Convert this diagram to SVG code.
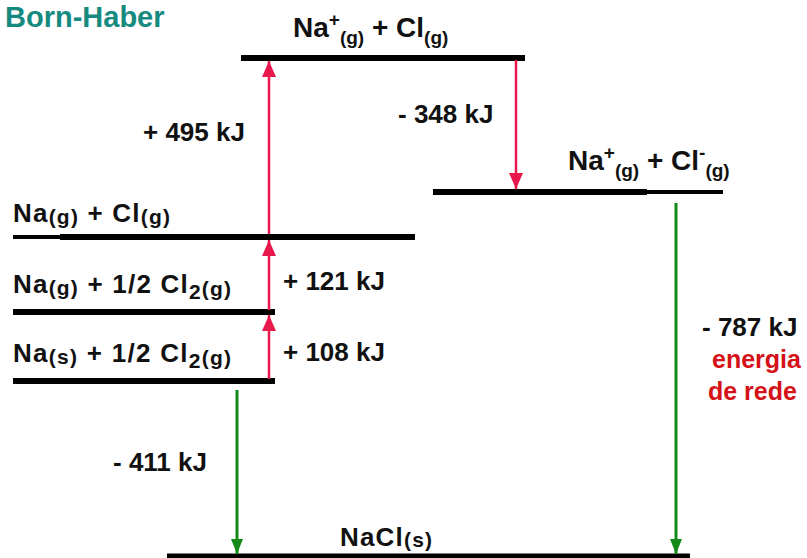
<svg xmlns="http://www.w3.org/2000/svg" width="807" height="558" viewBox="0 0 807 558">
  <style>
    text { font-family: "Liberation Sans", Arial, sans-serif; font-weight: bold; fill: #111; }
    .title { font-size: 29px; fill: #178a80; }
    .big { font-size: 26px; }
    .note { font-size: 25px; fill: #d41218; }
    .head { font-size: 28px; }
    .hs { font-size: 19px; }
    .lvl { font-size: 26px; }
    .ls { font-size: 21px; }
    .level { stroke: #000; stroke-width: 6; fill: none; }
    .up { stroke: #e8184c; stroke-width: 2.5; fill: none; marker-end: url(#headRed); }
    .down { stroke: #e8184c; stroke-width: 2.5; fill: none; marker-end: url(#headRed); }
    .green { stroke: #138a18; stroke-width: 3; fill: none; marker-end: url(#headGreen); }
  </style>
  <defs>
    <marker id="headRed" markerUnits="userSpaceOnUse" viewBox="0 0 16 14" refX="16" refY="7" markerWidth="16" markerHeight="14" orient="auto">
      <path d="M0,0 L16,7 L0,14 Z" fill="#e8184c"/>
    </marker>
    <marker id="headGreen" markerUnits="userSpaceOnUse" viewBox="0 0 15 12" refX="15" refY="6" markerWidth="15" markerHeight="12" orient="auto">
      <path d="M0,0 L15,6 L0,12 Z" fill="#138a18"/>
    </marker>
  </defs>

  <rect width="807" height="558" fill="#fff"/>

  <text class="title" x="5" y="27">Born-Haber</text>

  <!-- energy levels -->
  <g id="level-ions-atom">
    <line class="level" x1="241" y1="58" x2="525" y2="58"/>
    <text class="head" x="293" y="37">Na<tspan class="hs" dy="-11">+</tspan><tspan class="hs" dy="18">(g)</tspan><tspan dy="-7"> + Cl</tspan><tspan class="hs" dy="7">(g)</tspan></text>
  </g>

  <g id="level-ions">
    <line class="level" x1="433" y1="192" x2="647" y2="192"/>
    <line stroke="#000" stroke-width="4" x1="645" y1="192" x2="723" y2="192"/>
    <text class="head" x="568" y="170">Na<tspan class="hs" dy="-11">+</tspan><tspan class="hs" dy="18">(g)</tspan><tspan dy="-7"> + Cl</tspan><tspan class="hs" dy="-11">-</tspan><tspan class="hs" dy="18">(g)</tspan></text>
  </g>

  <g id="level-atoms">
    <line stroke="#000" stroke-width="4" x1="13" y1="237" x2="62" y2="237"/>
    <line class="level" x1="60" y1="237" x2="415" y2="237"/>
    <text class="lvl" x="13" y="222" textLength="157" lengthAdjust="spacing">Na<tspan class="ls" dy="2">(g)</tspan><tspan dy="-2"> + Cl</tspan><tspan class="ls" dy="2">(g)</tspan></text>
  </g>

  <g id="level-gas-na">
    <line class="level" x1="13" y1="312" x2="275" y2="312"/>
    <text class="lvl" x="13" y="293" textLength="218" lengthAdjust="spacing">Na<tspan class="ls" dy="2">(g)</tspan><tspan dy="-2"> + 1/2 Cl</tspan><tspan class="ls" dy="6">2</tspan><tspan class="ls" dy="-3">(g)</tspan></text>
  </g>

  <g id="level-elements">
    <line class="level" x1="13" y1="381" x2="275" y2="381"/>
    <text class="lvl" x="13" y="362" textLength="218" lengthAdjust="spacing">Na<tspan class="ls" dy="2">(s)</tspan><tspan dy="-2"> + 1/2 Cl</tspan><tspan class="ls" dy="6">2</tspan><tspan class="ls" dy="-3">(g)</tspan></text>
  </g>

  <g id="level-nacl">
    <line stroke="#000" stroke-width="5" x1="167" y1="556" x2="690" y2="556"/>
    <text class="lvl" x="340" y="546" textLength="92" lengthAdjust="spacing">NaCl<tspan class="ls" dy="1">(s)</tspan></text>
  </g>

  <!-- connectors -->
  <g id="connectors">
    <line class="up" x1="269" y1="379" x2="269" y2="315"/>
    <line class="up" x1="269" y1="310" x2="269" y2="240"/>
    <line class="up" x1="269" y1="234" x2="269" y2="61"/>
    <line class="down" x1="516" y1="60" x2="516" y2="189"/>
    <line class="green" x1="237" y1="390" x2="237" y2="554"/>
    <line class="green" x1="676" y1="203" x2="676" y2="554"/>
  </g>

  <!-- step energies -->
  <g id="labels">
    <text class="big" x="143" y="141">+ 495 kJ</text>
    <text class="big" x="398" y="123">- 348 kJ</text>
    <text class="big" x="283" y="290">+ 121 kJ</text>
    <text class="big" x="283" y="361">+ 108 kJ</text>
    <text class="big" x="113" y="471">- 411 kJ</text>
    <text class="big" x="702" y="336">- 787 kJ</text>
    <text class="note" x="712" y="368">energia</text>
    <text class="note" x="708" y="400">de rede</text>
  </g>
</svg>
